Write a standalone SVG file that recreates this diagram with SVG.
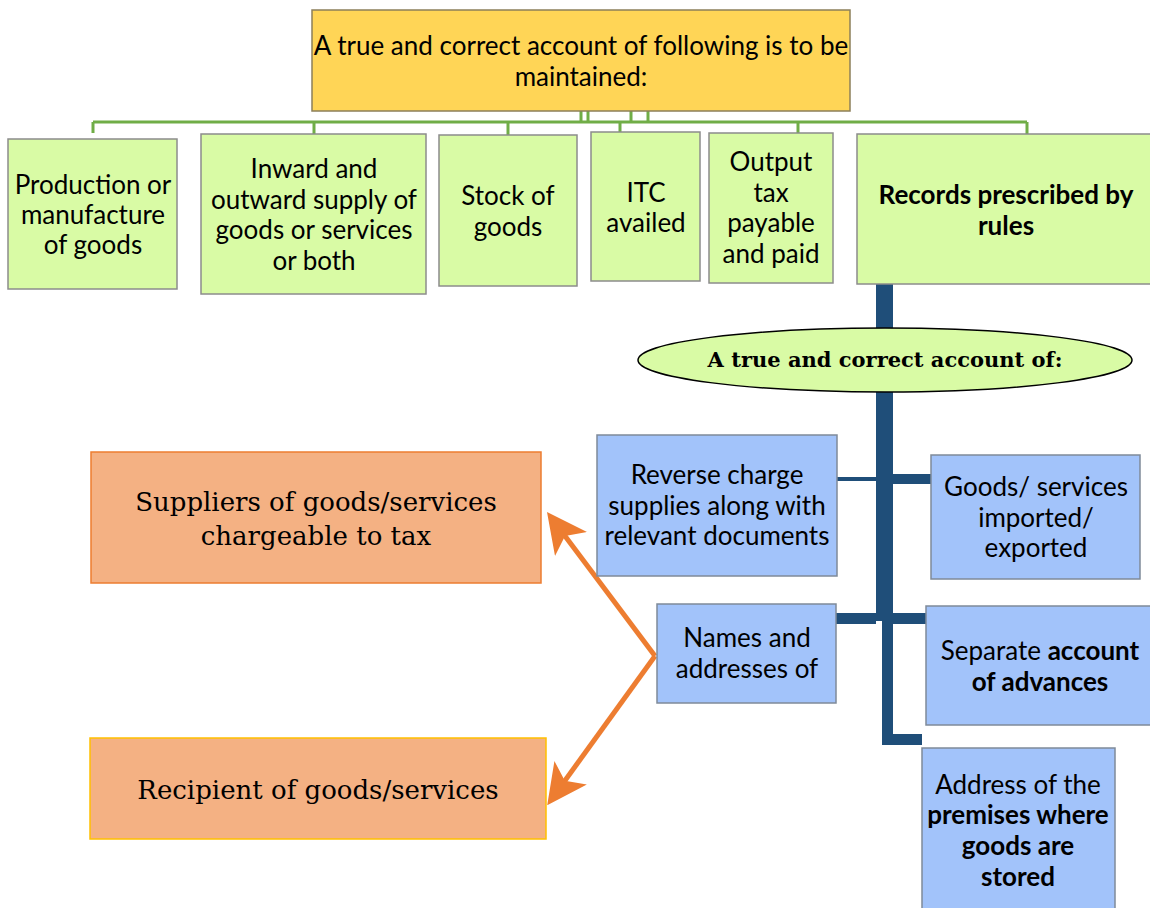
<svg xmlns="http://www.w3.org/2000/svg" width="1150" height="908" viewBox="0 0 1150 908">
<style>
.t{font-family:Lato,"Liberation Sans",sans-serif;font-size:26px;fill:#000;text-anchor:middle}
.b{font-weight:bold}
.s{font-family:"DejaVu Serif","Liberation Serif",serif;font-size:26px;fill:#000;text-anchor:middle}
.grn{fill:#D9FBA5;stroke:#8C8C8C;stroke-width:1.5}
.blu{fill:#A2C3FA;stroke:#7F8A99;stroke-width:1.5}
.org{fill:#F4B183;stroke:#ED7D31;stroke-width:1.5}
.gl{stroke:#70AD47;stroke-width:3;fill:none}
.nv{fill:#1F4E79}
</style>
<defs>
<marker id="ah" markerWidth="8" markerHeight="8" refX="5" refY="4" orient="auto" markerUnits="strokeWidth">
<path d="M0,0 L8,4 L0,8 L2,4 Z" fill="#ED7D31"/>
</marker>
</defs>
<g id="connectors">
<path class="gl" d="M581,111V122 M588,111V122 M631,111V122 M648,111V122 M93,122H1027 M93,122V133 M314,122V134 M508,122V135 M620,122V132 M798,122V133 M1027,122V134"/>
<rect class="nv" x="876" y="284" width="17" height="337"/>
<rect class="nv" x="882" y="615" width="11" height="130"/>
<rect class="nv" x="882" y="734" width="40" height="11"/>
<rect class="nv" x="837" y="477" width="39" height="4"/>
<rect class="nv" x="893" y="474" width="38" height="10"/>
<rect class="nv" x="836" y="613" width="40" height="11"/>
<rect class="nv" x="893" y="613" width="33" height="11"/>
<path d="M655,656 L556,524" stroke="#ED7D31" stroke-width="5" fill="none" marker-end="url(#ah)"/>
<path d="M655,656 L556,793" stroke="#ED7D31" stroke-width="5" fill="none" marker-end="url(#ah)"/>
</g>
<g id="top">
<rect x="312" y="10" width="538" height="101" fill="#FFD556" stroke="#8C7F5A" stroke-width="1.5"/>
<text class="t" x="581" y="55">A true and correct account of following is to be</text>
<text class="t" x="581" y="86">maintained:</text>
</g>
<g id="n1">
<rect class="grn" x="8" y="139" width="169" height="150"/>
<text class="t" x="93" y="194">Production or</text>
<text class="t" x="93" y="224">manufacture</text>
<text class="t" x="93" y="254">of goods</text>
</g>
<g id="n2">
<rect class="grn" x="201" y="134" width="225" height="160"/>
<text class="t" x="314" y="178">Inward and</text>
<text class="t" x="314" y="209">outward supply of</text>
<text class="t" x="314" y="239">goods or services</text>
<text class="t" x="314" y="270">or both</text>
</g>
<g id="n3">
<rect class="grn" x="439" y="135" width="138" height="151"/>
<text class="t" x="508" y="205">Stock of</text>
<text class="t" x="508" y="236">goods</text>
</g>
<g id="n4">
<rect class="grn" x="591" y="132" width="109" height="149"/>
<text class="t" x="646" y="202">ITC</text>
<text class="t" x="646" y="232">availed</text>
</g>
<g id="n5">
<rect class="grn" x="709" y="133" width="124" height="150"/>
<text class="t" x="771" y="171">Output</text>
<text class="t" x="771" y="202">tax</text>
<text class="t" x="771" y="232">payable</text>
<text class="t" x="771" y="263">and paid</text>
</g>
<g id="n6">
<rect class="grn" x="857" y="134" width="295" height="150"/>
<text class="t b" x="1006" y="204">Records prescribed by</text>
<text class="t b" x="1006" y="235">rules</text>
</g>
<g id="ellipse">
<ellipse cx="885" cy="360" rx="247" ry="32" fill="#D9FBA5" stroke="#000" stroke-width="1.5"/>
<text class="s b" x="885" y="367" style="font-size:21px">A true and correct account of:</text>
</g>
<g id="b1">
<rect class="blu" x="597" y="435" width="240" height="141"/>
<text class="t" x="717" y="484">Reverse charge</text>
<text class="t" x="717" y="515">supplies along with</text>
<text class="t" x="717" y="545">relevant documents</text>
</g>
<g id="b2">
<rect class="blu" x="931" y="455" width="209" height="124"/>
<text class="t" x="1036" y="496">Goods/ services</text>
<text class="t" x="1036" y="527">imported/</text>
<text class="t" x="1036" y="557">exported</text>
</g>
<g id="b3">
<rect class="blu" x="657" y="604" width="179" height="99"/>
<text class="t" x="747" y="647">Names and</text>
<text class="t" x="747" y="678">addresses of</text>
</g>
<g id="b4">
<rect class="blu" x="926" y="606" width="226" height="119"/>
<text class="t" x="1040" y="660">Separate <tspan class="b">account</tspan></text>
<text class="t b" x="1040" y="691">of advances</text>
</g>
<g id="b5">
<rect class="blu" x="922" y="748" width="193" height="162"/>
<text class="t" x="1018" y="794">Address of the</text>
<text class="t b" x="1018" y="824">premises where</text>
<text class="t b" x="1018" y="855">goods are</text>
<text class="t b" x="1018" y="886">stored</text>
</g>
<g id="o1">
<rect class="org" x="91" y="452" width="450" height="131"/>
<text class="s" x="316" y="511">Suppliers of goods/services</text>
<text class="s" x="316" y="545">chargeable to tax</text>
</g>
<g id="o2">
<rect x="90" y="738" width="456" height="101" fill="#F4B183" stroke="#FFC000" stroke-width="1.5"/>
<text class="s" x="318" y="799">Recipient of goods/services</text>
</g>
</svg>
